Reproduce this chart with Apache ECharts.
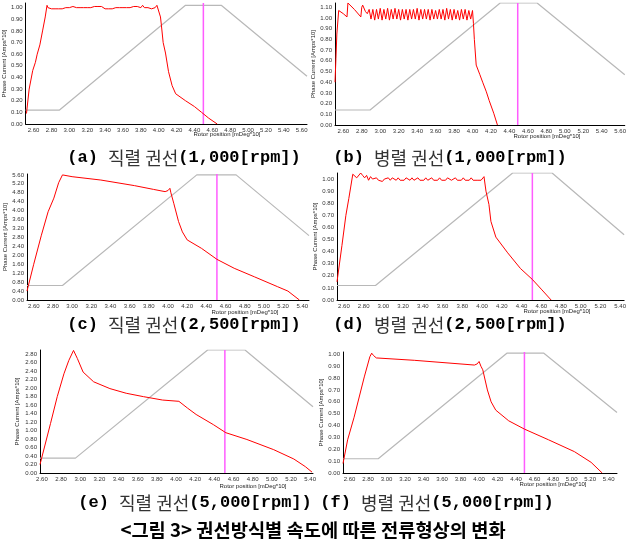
<!DOCTYPE html>
<html><head><meta charset="utf-8">
<script src="https://cdn.jsdelivr.net/npm/echarts@6/dist/echarts.min.js"></script>
<style>html,body{margin:0;padding:0;background:#fff}#c{width:629px;height:549px}</style>
</head><body><div id="c"></div>
<script>
// ---- data ----
const yTitle = 'Phase Current [Amps*10]';
const xTitle = 'Rotor position [mDeg*10]';
const mainTitle = '<그림 3> 권선방식별 속도에 따른 전류형상의 변화';
const captions = [
  ['(a) ', '직렬 권선', '(1,000[rpm])'],
  ['(b) ', '병렬 권선', '(1,000[rpm])'],
  ['(c) ', '직렬 권선', '(2,500[rpm])'],
  ['(d) ', '병렬 권선', '(2,500[rpm])'],
  ['(e) ', '직렬 권선', '(5,000[rpm])'],
  ['(f) ', '병렬 권선', '(5,000[rpm])']
];
const xMin = [2.51, 2.51, 2.53, 2.53, 2.58, 2.53];
const xMax = [5.66, 5.65, 5.47, 5.44, 5.43, 5.49];
const xLabelStep = 0.2;
const yMax = [1.04, 1.14, 5.64, 1.05, 2.90, 1.02];
const yLabelStep = [0.1, 0.1, 0.4, 0.1, 0.2, 0.1];
const markerX = [4.50, 4.49, 4.51, 4.51, 4.51, 4.49];

const redA = [[2.52,0.09],[2.55,0.30],[2.59,0.46],[2.62,0.53],[2.64,0.60],[2.67,0.68],[2.70,0.80],[2.73,0.92],[2.75,1.02],[2.76,1.00],
 [2.78,1.01],[2.80,0.99],[2.82,1.00],[2.84,0.99],[2.86,1.00],[2.88,0.99],[2.90,1.00],[2.92,0.99],[2.94,1.00],[2.96,1.00],[2.98,0.99],
 [3.00,1.00],[3.02,1.00],[3.04,1.01],[3.06,1.00],[3.08,1.00],[3.10,1.01],[3.12,1.00],[3.14,1.01],[3.16,1.00],[3.18,1.01],[3.20,1.00],
 [3.22,1.01],[3.24,1.00],[3.26,1.01],[3.28,1.01],[3.30,1.00],[3.32,1.01],[3.34,1.00],[3.36,1.01],[3.38,1.00],[3.40,0.99],[3.42,1.00],
 [3.44,0.99],[3.46,1.00],[3.48,0.99],[3.50,1.00],[3.52,1.00],[3.54,1.01],[3.56,1.00],[3.58,1.01],[3.60,1.00],[3.62,1.01],[3.64,1.00],
 [3.66,1.01],[3.68,1.00],[3.70,1.01],[3.72,1.01],[3.74,1.00],[3.76,1.01],[3.78,1.02],[3.80,1.00],[3.82,1.02],[3.84,1.00],[3.86,0.99],
 [3.88,1.00],[3.90,0.99],[3.92,0.99],[3.94,1.00],[3.96,1.00],[3.98,1.02],[4.00,1.02],
 [4.02,0.92],[4.03,0.85],[4.05,0.70],[4.076,0.61],[4.11,0.45],[4.15,0.33],[4.19,0.26],[4.30,0.20],[4.40,0.15],[4.48,0.10],[4.56,0.05],[4.655,0.0]];

const redB = [[2.51,0.40],[2.52,0.62],[2.53,0.85],[2.55,1.07],[2.60,1.04],[2.64,1.01],[2.65,1.14],[2.72,1.08],[2.79,1.01],[2.80,1.10],[2.81,1.12],[2.84,1.06],[2.86,1.04],
 [2.88,1.08],[2.90,0.99],[2.92,1.08],[2.94,0.98],[2.96,1.08],[2.98,0.99],[3.00,1.09],[3.02,0.98],[3.04,1.08],[3.06,0.99],[3.08,1.09],[3.10,0.98],
 [3.12,1.08],[3.14,0.99],[3.16,1.09],[3.18,0.99],[3.20,1.08],[3.22,0.98],[3.24,1.08],[3.26,0.99],[3.28,1.08],[3.30,0.98],[3.32,1.08],[3.34,0.99],
 [3.36,1.08],[3.38,0.99],[3.40,1.09],[3.42,0.98],[3.44,1.08],[3.46,0.99],[3.48,1.08],[3.50,0.99],[3.52,1.08],[3.54,0.98],[3.56,1.08],[3.58,0.99],
 [3.60,1.07],[3.62,0.99],[3.64,1.08],[3.66,0.99],[3.68,1.08],[3.70,0.98],[3.72,1.09],[3.74,0.99],[3.76,1.08],[3.78,0.98],[3.80,1.08],[3.82,0.99],
 [3.84,1.07],[3.86,0.98],[3.88,1.08],[3.90,0.99],[3.92,1.08],[3.94,0.98],[3.96,1.07],[3.98,0.99],[4.00,1.07],
 [4.01,0.95],[4.02,0.80],[4.04,0.56],[4.08,0.47],[4.11,0.40],[4.15,0.31],[4.18,0.23],[4.23,0.11],[4.27,0.0]];

const redC = [[2.53,0.40],[2.60,1.60],[2.68,2.90],[2.75,3.95],[2.81,4.56],[2.86,5.25],[2.90,5.60],[3.00,5.52],[3.30,5.37],[3.65,5.12],
 [3.85,4.95],[3.97,4.85],[4.00,4.90],[4.02,5.00],[4.03,4.80],[4.06,4.33],[4.11,3.51],[4.15,3.05],[4.20,2.69],[4.35,2.31],[4.51,1.82],
 [4.69,1.42],[4.90,1.04],[5.14,0.60],[5.25,0.40],[5.37,0.0]];

const redD = [[2.53,0.15],[2.58,0.45],[2.62,0.70],[2.65,0.84],[2.69,1.04],[2.71,1.03],[2.73,1.01],[2.75,1.02],[2.77,1.05],[2.79,1.03],
 [2.81,1.01],[2.83,1.03],[2.85,0.99],[2.87,1.02],[2.89,1.00],[2.91,0.99],[2.93,1.01],[2.95,0.99],[2.97,1.00],[2.99,0.98],[3.01,1.00],
 [3.03,0.99],[3.05,1.01],[3.07,0.99],[3.09,1.01],[3.11,1.00],[3.13,0.99],[3.15,1.01],[3.17,0.99],[3.19,1.00],[3.21,0.99],[3.23,1.01],
 [3.25,1.00],[3.27,0.99],[3.29,1.01],[3.31,0.99],[3.33,1.00],[3.35,1.01],[3.37,0.99],[3.39,1.00],[3.41,0.99],[3.43,1.01],[3.45,0.99],
 [3.47,1.00],[3.49,1.01],[3.51,0.99],[3.53,1.00],[3.55,0.99],[3.57,1.01],[3.59,0.99],[3.61,1.00],[3.63,0.99],[3.65,1.01],[3.67,1.00],
 [3.69,0.99],[3.71,1.00],[3.73,1.01],[3.75,0.99],[3.77,1.00],[3.79,0.99],[3.81,1.01],[3.83,0.99],[3.85,1.00],[3.87,0.99],[3.89,1.01],
 [3.91,0.99],[3.93,1.00],[3.95,0.99],[3.97,1.00],[3.99,0.99],[4.01,1.00],[4.02,1.02],
 [4.04,0.90],[4.07,0.79],[4.09,0.65],[4.14,0.52],[4.26,0.39],[4.39,0.26],[4.51,0.17],[4.60,0.09],[4.70,0.0]];

const redE = [[2.58,0.20],[2.69,1.17],[2.76,1.80],[2.83,2.34],[2.88,2.65],[2.93,2.89],[2.97,2.70],[3.03,2.38],[3.14,2.15],[3.31,1.99],
 [3.48,1.88],[3.66,1.80],[3.86,1.72],[4.03,1.69],[4.12,1.53],[4.21,1.38],[4.39,1.14],[4.52,0.95],[4.74,0.79],[5.02,0.55],[5.23,0.33],
 [5.35,0.15],[5.42,0.02]];

const redF = [[2.53,0.08],[2.58,0.28],[2.65,0.47],[2.76,0.81],[2.82,0.98],[2.84,1.01],[2.86,0.99],[2.87,1.00],[2.89,0.97],[2.91,0.96],
 [3.30,0.95],[3.95,0.91],[3.98,0.92],[4.00,0.94],[4.02,0.90],[4.04,0.87],[4.09,0.70],[4.13,0.60],[4.18,0.53],[4.32,0.44],[4.49,0.37],
 [4.75,0.28],[5.03,0.18],[5.21,0.09],[5.33,0.0]];

const grayA = [[2.51,0.12],[2.89,0.12],[4.30,1.02],[4.70,1.02],[5.66,0.41]];
const grayB = [[2.51,0.14],[2.89,0.14],[4.30,1.14],[4.70,1.14],[5.65,0.47]];
const grayC = [[2.53,0.65],[2.90,0.65],[4.30,5.60],[4.71,5.60],[5.47,2.88]];
const grayD = [[2.53,0.12],[2.92,0.12],[4.31,1.05],[4.71,1.05],[5.44,0.54]];
const grayE = [[2.58,0.35],[2.95,0.35],[4.33,2.90],[4.72,2.90],[5.43,1.56]];
const grayF = [[2.53,0.12],[2.91,0.12],[4.30,1.01],[4.70,1.01],[5.49,0.51]];

const reds = [redA, redB, redC, redD, redE, redF];
const grays = [grayA, grayB, grayC, grayD, grayE, grayF];

// ---- layout ----
const grids = [
  {left: 21, top: 3, width: 286, height: 121},
  {left: 335, top: 3, width: 293, height: 122},
  {left: 27, top: 174, width: 282, height: 126},
  {left: 337, top: 173, width: 290, height: 127},
  {left: 40, top: 350, width: 273, height: 123},
  {left: 343, top: 352, width: 274, height: 121}
];
const yNameGap = [17, 16, 19, 18, 20, 18];
const xTitlePos = [[227,134],[547,136],[245,312],[557,311],[253,486],[553,484]];
const captionPos = [[184,158],[450,158],[184,325],[450,325],[195,503],[437,503]];

function isMult(v, s) { const q = v / s; return Math.abs(q - Math.round(q)) < 1e-6; }

const option = {
  animation: false,
  backgroundColor: '#fff',
  grid: grids.map(g => Object.assign({containLabel: false}, g)),
  xAxis: grids.map((g, i) => ({
    type: 'value', gridIndex: i, min: xMin[i], max: xMax[i], interval: 0.01,
    axisLine: {show: true, onZero: false, lineStyle: {color: '#000', width: 1}},
    axisTick: {show: false}, splitLine: {show: false},
    axisLabel: {fontSize: 6, color: '#333', margin: 3, fontFamily: 'Liberation Sans',
      showMinLabel: true, showMaxLabel: true,
      formatter: v => isMult(v, xLabelStep) ? v.toFixed(2) : ''}
  })),
  yAxis: grids.map((g, i) => ({
    type: 'value', gridIndex: i, min: 0, max: yMax[i], interval: yLabelStep[i],
    axisLine: {show: true, lineStyle: {color: '#000', width: 1}},
    axisTick: {show: false}, splitLine: {show: false},
    name: yTitle, nameLocation: 'middle', nameGap: yNameGap[i], nameRotate: 90,
    nameTextStyle: {fontSize: 6, color: '#222', fontFamily: 'Liberation Sans'},
    axisLabel: {fontSize: 6, color: '#333', margin: 3, fontFamily: 'Liberation Sans',
      formatter: v => isMult(v, yLabelStep[i]) ? v.toFixed(2) : ''}
  })),
  series: [].concat(
    grays.map((d, i) => ({type: 'line', xAxisIndex: i, yAxisIndex: i, data: d, symbol: 'none',
      lineStyle: {color: '#b8b8b8', width: 1.2}, z: 2})),
    markerX.map((x, i) => ({type: 'line', xAxisIndex: i, yAxisIndex: i, data: [[x, 0], [x, yMax[i]]], symbol: 'none',
      lineStyle: {color: '#ff5cff', width: 1.5}, z: 3})),
    reds.map((d, i) => ({type: 'line', xAxisIndex: i, yAxisIndex: i, data: d, symbol: 'none',
      lineStyle: {color: '#ff0000', width: 1}, z: 4}))
  ),
  graphic: [].concat(
    xTitlePos.map(p => ({type: 'text', x: p[0], y: p[1],
      style: {text: xTitle, fontSize: 6, fill: '#222', fontFamily: 'Liberation Sans', align: 'center', verticalAlign: 'middle'}})),
    captions.map((c, i) => ({type: 'text', x: captionPos[i][0], y: captionPos[i][1],
      style: {text: '{b|' + c[0] + '}{k|' + c[1] + '}{b|' + c[2] + '}', align: 'center', verticalAlign: 'middle',
        rich: {
          b: {fontFamily: 'Liberation Mono', fontWeight: 'bold', fontSize: 17, fill: '#000', color: '#000'},
          k: {fontFamily: 'Noto Sans CJK KR', fontWeight: 'normal', fontSize: 18, fill: '#333', color: '#333'}
        }}})),
    [{type: 'text', x: 313, y: 530,
      style: {text: mainTitle, fontFamily: 'Noto Sans CJK KR', fontWeight: 'bold', fontSize: 18.7, fill: '#000',
        align: 'center', verticalAlign: 'middle'}}]
  )
};

const chart = echarts.init(document.getElementById('c'), null, {renderer: 'canvas'});
chart.setOption(option);
</script>
</body></html>
